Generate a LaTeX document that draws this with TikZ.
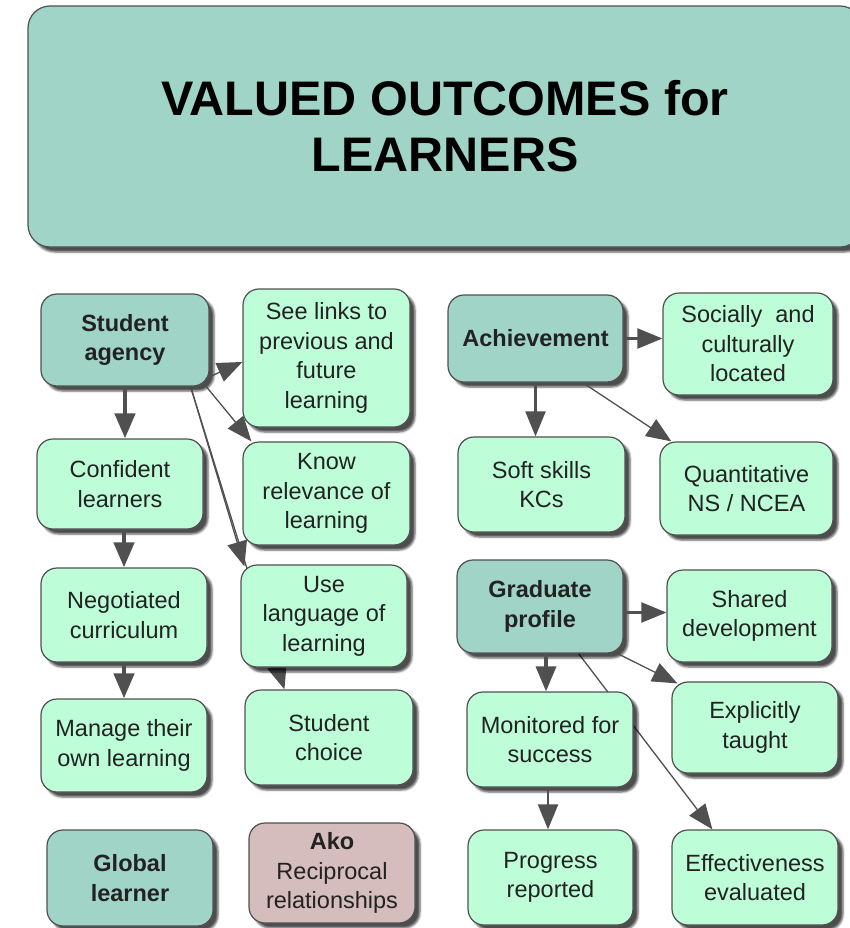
\documentclass[tikz,border=0pt]{standalone}
\usepackage{fontspec}
\setmainfont{Liberation Sans}
\usetikzlibrary{shadows.blur,arrows.meta,calc}

\definecolor{tealbox}{HTML}{A0D4C6}
\definecolor{mintbox}{HTML}{BDFDD8}
\definecolor{akobox}{HTML}{D4BDBC}
\definecolor{edgegrey}{HTML}{505050}
\definecolor{inkgrey}{HTML}{222222}

\pgfdeclarelayer{background}
\pgfsetlayers{background,main}

\tikzset{
  card/.style={draw=edgegrey, line width=1.2pt, rounded corners=16pt,
    align=center, inner sep=0pt, text=inkgrey,
    font=\fontsize{23.5}{29.5}\selectfont,
    blur shadow={shadow xshift=5pt, shadow yshift=-5pt,
      shadow blur radius=2pt, shadow opacity=70}},
  hub/.style={card, fill=tealbox, font=\bfseries\fontsize{23.5}{29.5}\selectfont},
  leaf/.style={card, fill=mintbox},
  banner/.style={card, fill=tealbox, rounded corners=22pt, text=black,
    font=\bfseries\fontsize{48.5}{56}\selectfont},
  sz/.style 2 args={minimum width=#1pt, minimum height=#2pt},
  thinlink/.style={draw=edgegrey, line width=1.3pt,
    -{Triangle[length=25pt,width=20pt]}},
  midlink/.style={thinlink, line width=2.2pt},
  boldlink/.style={thinlink, line width=3.5pt},
  fatlink/.style={thinlink, line width=4.5pt},
}

\begin{document}
\begin{tikzpicture}[x={(1pt,0pt)}, y={(0pt,-1pt)}]
\useasboundingbox (0,0) rectangle (850,928);

% heading
\node[banner, sz={834}{241}] (head) at (445,126.5) {VALUED OUTCOMES for\\LEARNERS};

% student agency column
\node[hub,  sz={168}{92}]  (sa)     at (125,340)   {Student\\agency};
\node[leaf, sz={167}{138}] (links)  at (326.5,358) {See links to\\previous and\\future\\learning};
\node[leaf, sz={166}{90}]  (conf)   at (120,484)   {Confident\\learners};
\node[leaf, sz={167}{103}] (know)   at (326.5,493.5) {Know\\relevance of\\learning};
\node[leaf, sz={166}{94}]  (nego)   at (124,615)   {Negotiated\\curriculum};
\node[leaf, sz={166}{102}] (lang)   at (324,616)   {Use\\language of\\learning};
\node[leaf, sz={166}{93}]  (manage) at (124,745.5) {Manage their\\own learning};
\node[leaf, sz={168}{95}]  (choice) at (329,737.5) {Student\\choice};
\node[hub,  sz={166}{96}]  (global) at (130,878)   {Global\\learner};
\node[card, fill=akobox, sz={166}{100}] (ako) at (332,873) {\textbf{Ako}\\Reciprocal\\relationships};

% achievement group
\node[hub,  sz={175}{87}]  (ach)   at (535.5,338.5) {Achievement};
\node[leaf, sz={170}{102}] (soc)   at (748,344)     {Socially\ \ and\\culturally\\located};
\node[leaf, sz={167}{95}]  (soft)  at (541.5,484.5) {Soft skills\\KCs};
\node[leaf, sz={173}{93}]  (quant) at (746.5,488.5) {Quantitative\\NS / NCEA};

% graduate profile group
\node[hub,  sz={166}{93}] (grad)   at (540,606.5) {Graduate\\profile};
\node[leaf, sz={165}{92}] (shared) at (749.5,616) {Shared\\development};
\node[leaf, sz={166}{91}] (expl)   at (755,727.5) {Explicitly\\taught};
\node[leaf, sz={166}{95}] (mon)    at (550,739.5) {Monitored for\\success};
\node[leaf, sz={165}{95}] (prog)   at (550.5,877.5) {Progress\\reported};
\node[leaf, sz={166}{95}] (eff)    at (755,877.5) {Effectiveness\\evaluated};

% connectors that pass behind boxes
\begin{pgfonlayer}{background}
  \draw[thinlink] ($(sa.south east)+(-19,0)$) -- ($(choice.north west)+(40,0)$);
  \draw[thinlink] ($(grad.south east)+(-45,0)$) -- ($(eff.north west)+(41,0)$);
\end{pgfonlayer}

% student agency connectors
\draw[fatlink] (sa.south) -- (sa.south |- conf.north);
\draw[fatlink] (nego.north |- conf.south) -- (nego.north);
\draw[fatlink] (nego.south) -- (manage.north);
\draw[thinlink] ($(sa.south east)+(-4,-8)$) -- ($(links.west)+(0,4)$);
\draw[thinlink] ($(sa.south east)+(-5,-2)$) -- ($(know.north west)+(9,0)$);
\draw[thinlink] ($(sa.south east)+(-19,0)$) -- ($(lang.north west)+(4,2)$);

% achievement connectors
\draw[midlink] (ach.east) -- (ach.east -| soc.west);
\draw[midlink] (ach.south) -- (ach.south |- soft.north);
\draw[thinlink] ($(ach.south east)+(-41,0)$) -- ($(quant.north west)+(12,0)$);

% graduate profile connectors
\draw[midlink] ($(grad.east)+(0,6)$) -- ($(grad.east -| shared.west)+(0,6)$);
\draw[boldlink] ($(grad.south)+(6,0)$) -- ($(grad.south |- mon.north)+(6,0)$);
\draw[thinlink] ($(grad.south east)+(-6,0)$) -- ($(expl.north west)+(6,2)$);
\draw[midlink] ($(mon.south)+(-2,0)$) -- ($(mon.south |- prog.north)+(-2,0)$);
\end{tikzpicture}
\end{document}
